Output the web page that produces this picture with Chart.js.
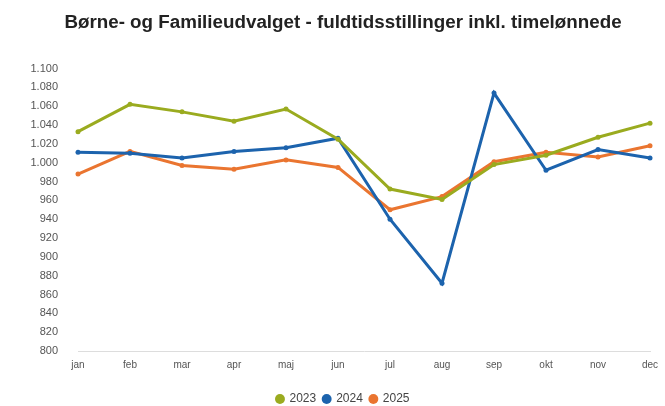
<!DOCTYPE html>
<html>
<head>
<meta charset="utf-8">
<script src="https://cdn.jsdelivr.net/npm/chart.js@4"></script>
<style>
  html, body { margin: 0; padding: 0; background: #fff; }
  #wrap { width: 665px; height: 406px; }
</style>
</head>
<body>
<div id="wrap"><canvas id="c"></canvas></div>
<script>
const months = ['jan','feb','mar','apr','maj','jun','jul','aug','sep','okt','nov','dec'];
const v2023 = [1033, 1062, 1054, 1044, 1057, 1025, 972, 961, 998, 1008, 1027, 1042];
const v2024 = [1011, 1010, 1005, 1012, 1016, 1026, 940, 872, 1074, 992, 1014, 1005];
const v2025 = [988, 1012, 997, 993, 1003, 995, 950, 964, 1001, 1011, 1006, 1018];

const COLORS = ['#9aab1f', '#1c63ad', '#ea7530'];

const fmt = v => v.toLocaleString('da-DK');

function series(label, data, color) {
  return {
    label, data,
    borderColor: color, backgroundColor: color,
    borderWidth: 3, tension: 0,
    pointRadius: 2.5, pointBorderWidth: 0, pointHoverRadius: 3,
  };
}

Chart.defaults.font.family = '"Liberation Sans", Arial, sans-serif';
Chart.defaults.color = '#555';

new Chart(document.getElementById('c'), {
  type: 'line',
  data: {
    labels: months,
    datasets: [
      series('2023', v2023, COLORS[0]),
      series('2024', v2024, COLORS[1]),
      series('2025', v2025, COLORS[2]),
    ],
  },
  options: {
    responsive: true,
    maintainAspectRatio: false,
    animation: false,
    layout: { padding: { left: 21, right: 0, top: 4, bottom: -9 } },
    plugins: {
      title: {
        display: true,
        text: 'Børne- og Familieudvalget - fuldtidsstillinger inkl. timelønnede',
        color: '#222',
        font: { size: 18.8, weight: 'bold' },
        padding: { top: 8, bottom: 34 },
      },
      legend: {
        position: 'bottom',
        labels: {
          usePointStyle: true, pointStyle: 'circle',
          boxWidth: 7, boxHeight: 7, padding: 7,
          color: '#444', font: { size: 12 },
        },
      },
    },
    scales: {
      x: {
        offset: false,
        afterFit: s => { s.paddingRight = 15; s.height += 7; },
        grid: { display: false, drawTicks: false },
        border: { color: '#ddd' },
        ticks: { font: { size: 10 }, color: '#555', padding: 8 },
      },
      y: {
        min: 800, max: 1100,
        afterFit: s => { s.width = 57; },
        grid: { display: false },
        border: { display: false },
        ticks: { stepSize: 20, font: { size: 11 }, color: '#555', callback: v => fmt(v), padding: 12 },
      },
    },
  },
});
</script>
</body>
</html>
